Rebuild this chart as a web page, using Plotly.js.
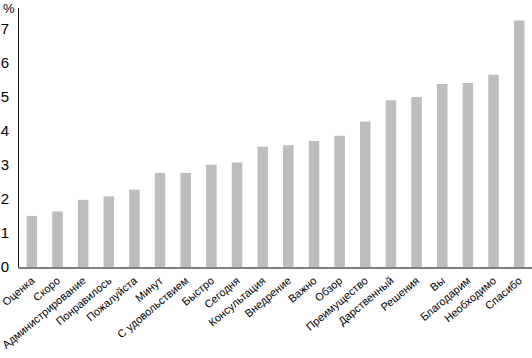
<!DOCTYPE html>
<html><head><meta charset="utf-8">
<script src="https://cdn.plot.ly/plotly-3.0.1.min.js"></script>
<style>html,body{margin:0;padding:0;background:#fff}#c{width:532px;height:358px}</style>
</head><body><div id="c"></div>
<script>
const categories = ["Оценка","Скоро","Администрирование","Понравилось","Пожалуйста","Минут","С удовольствием","Быстро","Сегодня","Консультация","Внедрение","Важно","Обзор","Преимущество","Дарственный","Решения","Вы","Благодарим","Необходимо","Спасибо"];
const values = [1.50,1.63,1.97,2.07,2.27,2.76,2.76,3.00,3.07,3.53,3.57,3.70,3.85,4.27,4.89,4.99,5.37,5.40,5.64,7.23];
const yTicks = [0,1,2,3,4,5,6,7];
const unitLabel = "%";
const fontFam = "'Liberation Sans Narrow',sans-serif";
Plotly.newPlot('c', [{
  type:'bar', x:categories, y:values,
  marker:{color:'#bdbdbd'}, hoverinfo:'none'
}], {
  width:532, height:358,
  margin:{l:19, r:0, t:8, b:91, pad:0},
  bargap:0.59,
  paper_bgcolor:'#fff', plot_bgcolor:'#fff',
  showlegend:false,
  font:{family:fontFam, color:'#000', size:12},
  xaxis:{tickangle:-40, showline:true, linecolor:'#808080', linewidth:2, ticks:'outside', ticklen:1, tickcolor:'rgba(0,0,0,0)', showgrid:false, zeroline:false, tickfont:{family:fontFam, size:11, color:'#000'}, automargin:false},
  yaxis:{range:[0,7.6], tickvals:yTicks, showline:true, linecolor:'#111', linewidth:1, showgrid:false, zeroline:false, ticks:'outside', ticklen:6, tickcolor:'rgba(0,0,0,0)', tickfont:{family:fontFam, size:15, color:'#000'}, automargin:false},
  annotations:[{text:unitLabel, xref:'paper', yref:'paper', x:-0.035, y:1.0, xanchor:'left', yanchor:'middle', showarrow:false, font:{size:13, family:fontFam, color:'#000'}}]
}, {staticPlot:true});
</script></body></html>
